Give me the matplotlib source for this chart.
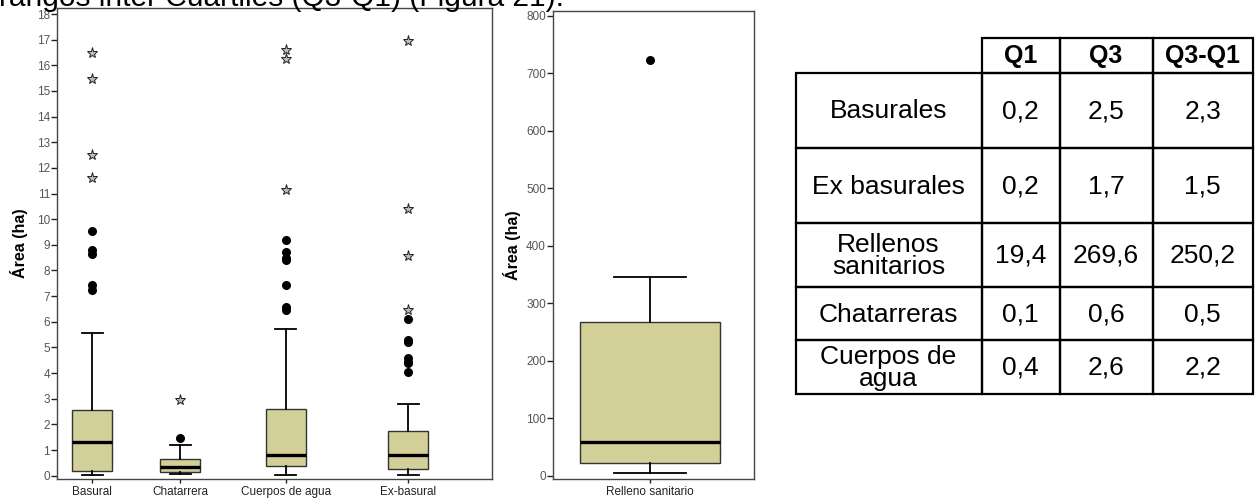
import matplotlib
matplotlib.use('Agg')
import matplotlib.pyplot as plt
from matplotlib.patches import Rectangle

plt.rcParams['font.family'] = ['Liberation Sans', 'DejaVu Sans']

# ---------------- data ----------------
categories = ['Basural', 'Chatarrera', 'Cuerpos de agua', 'Ex-basural']
whislo = [0.02, 0.07, 0.02, 0.02]
q1 = [0.20, 0.16, 0.38, 0.25]
med = [1.30, 0.35, 0.82, 0.82]
q3 = [2.55, 0.64, 2.61, 1.73]
whishi = [5.57, 1.20, 5.72, 2.80]
outliers = [[9.55, 8.80, 8.65, 7.45, 7.25],
            [1.46],
            [9.19, 8.73, 8.50, 8.41, 7.43, 6.56, 6.46],
            [6.10, 5.29, 5.22, 4.58, 4.45, 4.38, 4.05]]
extremes = [[16.49, 15.47, 12.50, 11.60],
            [2.95],
            [16.60, 16.23, 11.14],
            [16.95, 10.40, 8.55, 6.45]]

relleno_label = 'Relleno sanitario'
relleno_whislo = 4.0
relleno_q1 = 21.6
relleno_med = 59.0
relleno_q3 = 266.8
relleno_whishi = 345.0
relleno_outliers = [724.0]

left_yticks = list(range(0, 19))
right_yticks = list(range(0, 801, 100))
ylabel = 'Área (ha)'
top_text = 'rangos inter Cuartiles (Q3-Q1) (Figura 21).'

table_cols = ['Q1', 'Q3', 'Q3-Q1']
table_rows = ['Basurales', 'Ex basurales', 'Rellenos\nsanitarios', 'Chatarreras', 'Cuerpos de\nagua']
table_q1 = ['0,2', '0,2', '19,4', '0,1', '0,4']
table_q3 = ['2,5', '1,7', '269,6', '0,6', '2,6']
table_iqr = ['2,3', '1,5', '250,2', '0,5', '2,2']

# ---------------- layout ----------------
W, H = 1257, 501
fig = plt.figure(figsize=(W / 100, H / 100), dpi=100)
fig.patch.set_facecolor('white')

def px_axes(x0, y0, x1, y1):
    return fig.add_axes([x0 / W, 1 - y1 / H, (x1 - x0) / W, (y1 - y0) / H])

box_fill = '#d3cf98'
edge_col = '#333333'
tick_col = '#555555'

def style_axes(ax):
    for s in ax.spines.values():
        s.set_color('#444444')
        s.set_linewidth(1.0)
    ax.tick_params(axis='y', direction='out', length=4, width=1, color='#222222',
                   labelsize=8.5, labelcolor=tick_col, pad=1)
    ax.tick_params(axis='x', direction='out', length=3, width=1, color='#222222',
                   labelsize=8.5, labelcolor='#222222', pad=2)

# Left panel
ax1 = px_axes(57, 8, 492, 479)
positions = [0.40, 1.40, 2.60, 3.99]
stats = []
for i in range(len(categories)):
    stats.append(dict(label=categories[i], whislo=whislo[i], q1=q1[i], med=med[i],
                      q3=q3[i], whishi=whishi[i], fliers=[]))
ax1.bxp(stats, positions=positions, widths=0.455, capwidths=0.24, showfliers=False,
        patch_artist=True,
        boxprops=dict(facecolor=box_fill, edgecolor=edge_col, linewidth=1.0),
        medianprops=dict(color='black', linewidth=2.4),
        whiskerprops=dict(color='black', linewidth=1.3),
        capprops=dict(color='black', linewidth=1.3))
for i, p in enumerate(positions):
    ax1.plot([p] * len(outliers[i]), outliers[i], 'o', color='black', markersize=6.5,
             markeredgewidth=0, zorder=5)
    ax1.plot([p] * len(extremes[i]), extremes[i], '*', markerfacecolor='#bbbbbb',
             markeredgecolor='#222222', markersize=8, markeredgewidth=0.7, zorder=5)
ax1.set_xlim(0, 4.943)
ax1.set_ylim(-0.129, 18.234)
ax1.set_yticks(left_yticks)
ax1.set_xticks(positions)
ax1.set_xticklabels(categories)
style_axes(ax1)
ax1.set_ylabel(ylabel, fontsize=11.5, fontweight='bold', labelpad=6)

# Middle panel
ax2 = px_axes(553, 11, 754, 479)
rstats = [dict(label=relleno_label, whislo=relleno_whislo, q1=relleno_q1, med=relleno_med,
               q3=relleno_q3, whishi=relleno_whishi, fliers=[])]
ax2.bxp(rstats, positions=[1], widths=0.70, capwidths=0.36, showfliers=False,
        patch_artist=True,
        boxprops=dict(facecolor=box_fill, edgecolor=edge_col, linewidth=1.0),
        medianprops=dict(color='black', linewidth=2.4),
        whiskerprops=dict(color='black', linewidth=1.3),
        capprops=dict(color='black', linewidth=1.3))
ax2.plot([1] * len(relleno_outliers), relleno_outliers, 'o', color='black',
         markersize=6.5, markeredgewidth=0, zorder=5)
ax2.set_xlim(0.517, 1.517)
ax2.set_ylim(-5.7, 808.7)
ax2.set_yticks(right_yticks)
ax2.set_xticks([1])
ax2.set_xticklabels([relleno_label])
style_axes(ax2)
ax2.set_ylabel(ylabel, fontsize=11.5, fontweight='bold', labelpad=4)

# Top cropped text (only its lower part is visible in the reference)
fig.text(-1 / W, 1 - 5.5 / H, top_text, fontsize=21.5, va='baseline', ha='left', color='black')

# Table
col_edges = [795.7, 981.5, 1059.5, 1152.5, 1253.0]
row_edges = [38.0, 73.0, 148.0, 223.0, 287.0, 340.0, 394.0]
axt = px_axes(col_edges[0], row_edges[0], col_edges[-1], row_edges[-1])
axt.set_xlim(col_edges[0], col_edges[-1])
axt.set_ylim(row_edges[-1], row_edges[0])
axt.axis('off')
lw = 1.6
def cell(x0, x1, y0, y1):
    axt.add_patch(Rectangle((x0, y0), x1 - x0, y1 - y0, fill=False, edgecolor='black',
                            linewidth=lw, clip_on=False))
# header
for j, name in enumerate(table_cols):
    x0, x1 = col_edges[j + 1], col_edges[j + 2]
    cell(x0, x1, row_edges[0], row_edges[1])
    axt.text((x0 + x1) / 2, (row_edges[0] + row_edges[1]) / 2 + 1, name, ha='center',
             va='center', fontsize=18, fontweight='bold')
columns = [table_rows, table_q1, table_q3, table_iqr]
for i in range(len(table_rows)):
    y0, y1 = row_edges[i + 1], row_edges[i + 2]
    for j in range(4):
        x0, x1 = col_edges[j], col_edges[j + 1]
        cell(x0, x1, y0, y1)
        axt.text((x0 + x1) / 2, (y0 + y1) / 2 + 1, columns[j][i], ha='center',
                 va='center', fontsize=19, linespacing=0.88)

fig.savefig('out.png', dpi=100, facecolor='white')
